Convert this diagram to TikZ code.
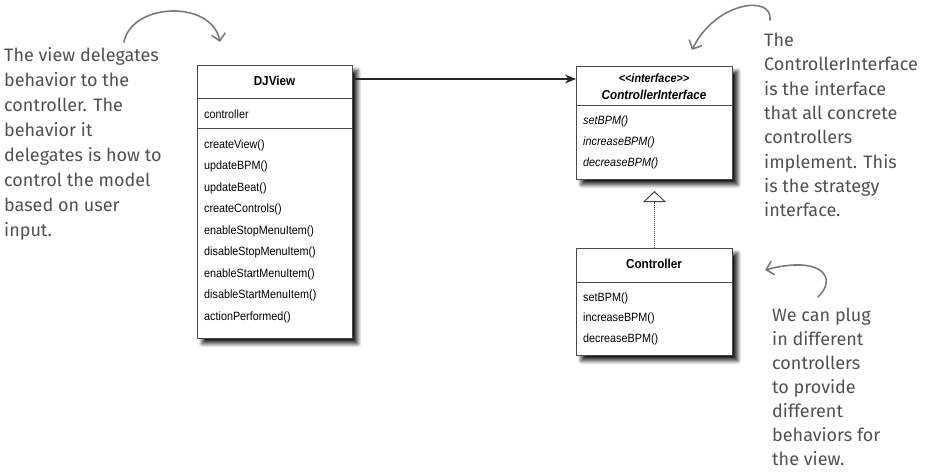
\documentclass[tikz,border=0pt]{standalone}
\usepackage{fontspec}
\setmainfont{Liberation Sans}
\newfontfamily\umlfont[FakeStretch=0.9]{Liberation Sans}
\newfontfamily\handfont{Fira Sans}
\usetikzlibrary{arrows.meta,shadows.blur}
\definecolor{boxline}{HTML}{4A4A4A}
\definecolor{notegray}{HTML}{505050}
\definecolor{arrowgray}{HTML}{7A7A7A}
\begin{document}
\begin{tikzpicture}[x=1pt,y=-1pt,
  umlbox/.style={draw=boxline, line width=1pt, fill=white, anchor=north west, inner sep=0pt,
    blur shadow={shadow xshift=5pt, shadow yshift=-5pt, shadow opacity=90, shadow blur steps=8, shadow blur radius=4pt}},
  item/.style={anchor=west, inner sep=0pt, font=\umlfont\fontsize{12}{14}\selectfont},
  ititem/.style={anchor=west, inner sep=0pt, font=\umlfont\fontsize{12}{14}\selectfont\itshape},
  umltitle/.style={inner sep=0pt, font=\umlfont\fontsize{13}{15}\selectfont\bfseries},
  sepline/.style={draw=boxline, line width=1pt},
  note/.style={anchor=north west, align=left, inner sep=0pt, text=notegray},
  hand/.style={draw=arrowgray, line width=1.6pt, line cap=round, line join=round,
    -{Straight Barb[length=7pt,width=14pt,line width=1.6pt]}}
]
\useasboundingbox (0,0) rectangle (926,475);

% ---------- DJView ----------
\node[umlbox, minimum width=155pt, minimum height=273pt] (djview) at (197,65) {};
\draw[sepline] (197,98) -- (352,98);
\draw[sepline] (197,128) -- (352,128);
\node[umltitle] (djtitle) at (274.5,81) {DJView};
\node[item] (djattr) at (204,114) {controller};
\node[item] (m1) at (204,145) {createView()};
\node[item] (m2) at (204,166.5) {updateBPM()};
\node[item] (m3) at (204,188) {updateBeat()};
\node[item] (m4) at (204,209.5) {createControls()};
\node[item] (m5) at (204,231) {enableStopMenuItem()};
\node[item] (m6) at (204,252.5) {disableStopMenuItem()};
\node[item] (m7) at (204,274) {enableStartMenuItem()};
\node[item] (m8) at (204,295.5) {disableStartMenuItem()};
\node[item] (m9) at (204,317) {actionPerformed()};

% ---------- ControllerInterface ----------
\node[umlbox, minimum width=156pt, minimum height=113pt] (iface) at (576,66) {};
\draw[sepline] (576,105) -- (732,105);
\node[inner sep=0pt, font=\umlfont\fontsize{12}{14}\selectfont\bfseries\itshape] (stereo) at (654,78) {{<}{<}interface{>}{>}};
\node[inner sep=0pt, font=\umlfont\fontsize{13}{15}\selectfont\bfseries\itshape] (ifname) at (654,94.5) {ControllerInterface};
\node[ititem] (i1) at (583,121) {setBPM()};
\node[ititem] (i2) at (583,142) {increaseBPM()};
\node[ititem] (i3) at (583,163) {decreaseBPM()};

% ---------- Controller ----------
\node[umlbox, minimum width=156pt, minimum height=107pt] (ctrl) at (576,248) {};
\draw[sepline] (576,282) -- (732,282);
\node[umltitle] (ctitle) at (654,264) {Controller};
\node[item] (c1) at (583,298) {setBPM()};
\node[item] (c2) at (583,318.5) {increaseBPM()};
\node[item] (c3) at (583,339) {decreaseBPM()};

% ---------- UML connectors ----------
\draw[black!85, line width=1.2pt, -{Stealth[length=11pt,width=9pt]}]
  ([yshift=-14pt]djview.north east) -- ([yshift=-13pt]iface.north west);
\draw[boxline, line width=1pt, densely dotted,
  -{Triangle[open,length=11pt,width=23pt,line width=1pt,fill=white]}]
  (ctrl.north) -- ([yshift=-11pt]iface.south);

% ---------- Notes ----------
\node[note, font=\handfont\fontsize{18}{25}\selectfont] (noteleft) at (4,47)
  {The view delegates\\ behavior to the\\ controller. The\\ behavior it\\ delegates is how to\\ control the model\\ based on user\\ input.};
\node[note, font=\handfont\fontsize{18}{24.3}\selectfont] (noteright) at (764,33)
  {The\\ ControllerInterface\\ is the interface\\ that all concrete\\ controllers\\ implement. This\\ is the strategy\\ interface.};
\node[note, font=\handfont\fontsize{18}{24}\selectfont] (notebottom) at (772,308)
  {We can plug\\ in different\\ controllers\\ to provide\\ different\\ behaviors for\\ the view.};

% ---------- Hand-drawn arrows ----------
\coordinate (h1s) at (124,42);
\coordinate (h1e) at (220,42);
\draw[hand] (h1s) .. controls (132,2) and (212,0) .. (h1e);
\coordinate (h2s) at (770,20);
\coordinate (h2e) at (692,50);
\draw[hand] (h2s) .. controls (773,-6) and (715,2) .. (h2e);
\coordinate (h3s) at (818,297);
\coordinate (h3e) at (765,270);
\draw[hand] (h3s) .. controls (838,278) and (822,255) .. (h3e);
\end{tikzpicture}
\end{document}
